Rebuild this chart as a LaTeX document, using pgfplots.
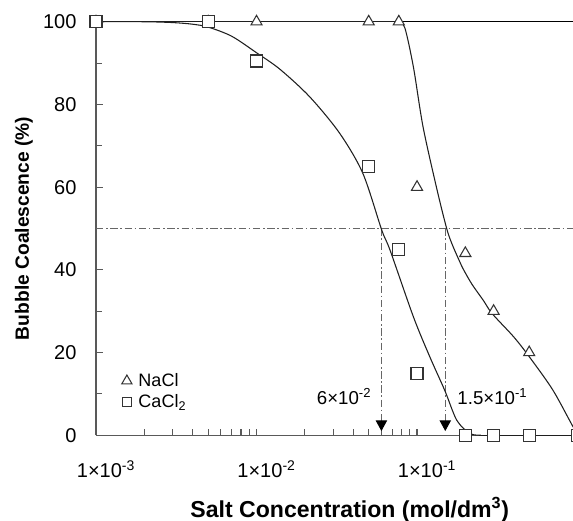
\documentclass[border=0pt]{standalone}
\usepackage{pgfplots}
\pgfplotsset{compat=1.18}
\usepackage{fontspec}
\setmainfont{Liberation Sans}
\usetikzlibrary{arrows.meta}
\definecolor{axgray}{gray}{0.35}
\definecolor{curve}{gray}{0.12}
\tikzset{dd/.style={dash pattern=on 5.5bp off 2bp on 1.2bp off 2bp}}
\begin{document}
\begin{tikzpicture}
\begin{axis}[
  scale only axis, width=361bp, height=310bp,
  xmode=log, xmin=1e-3, xmax=1, ymin=0, ymax=100,
  axis x line*=bottom, axis y line*=left,
  axis line style={axgray, line width=0.9bp},
  tick align=inside, tick style={axgray, line width=0.8bp},
  major tick length=5bp, minor tick length=4.3bp,
  /pgf/number format/assume math mode=true,
  xtick={1e-3,1e-2,1e-1},
  xticklabels={1×10\textsuperscript{-3},1×10\textsuperscript{-2},1×10\textsuperscript{-1}},
  ytick={0,20,...,100}, minor ytick={10,30,...,90},
  ticklabel style={font=\fontsize{15bp}{17bp}\selectfont, text=black},
  xticklabel style={anchor=base, inner sep=0pt, yshift=-31.5bp, xshift=7.5bp},
  yticklabel style={anchor=east, inner sep=0pt, xshift=-14.5bp},
  xlabel={\bfseries Salt Concentration (mol/dm\textsuperscript{3})},
  ylabel={\bfseries Bubble Coalescence (\%)},
  xlabel style={font=\fontsize{17.3bp}{20bp}\selectfont, at={(axis description cs:0.527,-0.1984)}, anchor=base, inner sep=0pt},
  ylabel style={font=\fontsize{14.4bp}{17bp}\selectfont, at={(axis description cs:-0.1496,0.5)}, anchor=center, inner sep=0pt},
  legend image code/.code={\draw[#1] plot coordinates {(0bp,0bp)}; \path[draw=none] (0bp,0bp) -- (7.2bp,0bp);},
  legend style={draw=none, fill=none, at={(axis description cs:0.053,0.155)}, anchor=north west,
    font=\fontsize{13.5bp}{16bp}\selectfont, row sep=1.5bp, inner sep=0pt, nodes={inner sep=1.5bp}},
  legend cell align=left,
  clip mode=individual,
]
% reference lines
\addplot[forget plot, black, line width=0.8bp] coordinates {(1e-3,100) (1,100)};
\addplot[forget plot, black!60, line width=0.8bp, dd] coordinates {(1e-3,50) (1,50)};
\addplot[forget plot, black!60, line width=0.8bp, dd, -{Triangle[width=8.5bp,length=8bp,black,fill=black]}] coordinates {(0.06,50) (0.06,1.0)};
\addplot[forget plot, black!60, line width=0.8bp, dd, -{Triangle[width=8.5bp,length=8bp,black,fill=black]}] coordinates {(0.15,50) (0.15,1.0)};
% fitted curves
\addplot[forget plot, curve, line width=0.8bp] coordinates {(0.001,100) (0.077,100)};
\addplot[forget plot, curve, line width=0.8bp, smooth] coordinates {
 (0.077,100) (0.084,98.5) (0.095,89) (0.109,74.6) (0.133,59.5) (0.153,50) (0.165,46.3) (0.181,42.7)
 (0.194,40.2) (0.22,36.5) (0.259,32.6) (0.294,29.4) (0.4,23.8) (0.5,19) (0.7,11) (0.93,2.3) (1,0.5)};
\addplot[forget plot, curve, line width=0.8bp, smooth] coordinates {
 (0.001,100) (0.002,100) (0.003,99.8) (0.004,99.4) (0.005,98.7) (0.007,96.5) (0.01,92.5) (0.014,88.5)
 (0.0215,81.8) (0.033,73) (0.046,63.3) (0.0603,49.6) (0.068,44.7) (0.095,28.6) (0.12,19) (0.149,10.8)
 (0.177,3.6) (0.214,0.4) (0.25,0)};
\addplot[forget plot, curve, line width=0.8bp] coordinates {(0.25,0) (1,0)};
% data
\addplot[forget plot, only marks, mark=triangle*, mark size=4.8bp, mark options={draw=black!80, fill=white, line width=0.8bp}]
 coordinates {(0.001,100) (0.005,100) (0.01,100) (0.05,100) (0.077,100) (0.1,60) (0.2,44) (0.3,30) (0.5,20)};
\addplot[forget plot, only marks, mark=square*, mark size=4.5bp, mark options={draw=black!80, fill=white, line width=0.8bp}]
 coordinates {(0.001,100) (0.005,100) (0.01,90.5) (0.05,65) (0.077,45) (0.1,15) (0.2,0) (0.3,0) (0.5,0) (1,0)};
\addlegendimage{only marks, mark=triangle*, mark size=4.4bp, mark options={draw=black!80, fill=white, line width=0.8bp}}
\addlegendentry{NaCl}
\addlegendimage{only marks, mark=square*, mark size=3.6bp, mark options={draw=black!80, fill=white, line width=0.8bp}}
\addlegendentry{CaCl\textsubscript{2}}
% annotations
\node[anchor=base, font=\fontsize{14bp}{16bp}\selectfont] at (axis cs:0.0351,7.4) {6×10\textsuperscript{-2}};
\node[anchor=base, font=\fontsize{14bp}{16bp}\selectfont] at (axis cs:0.295,7.4) {1.5×10\textsuperscript{-1}};
\coordinate (O) at (rel axis cs:0,0);
\coordinate (T) at (rel axis cs:1,1);
\end{axis}
\path (O) ++(-72bp,-63.75bp) coordinate (BL);
\path (T) ++(-3.4bp,16.3bp) coordinate (TR);
\pgfresetboundingbox
\path (BL) rectangle (TR);
\end{tikzpicture}
\end{document}
